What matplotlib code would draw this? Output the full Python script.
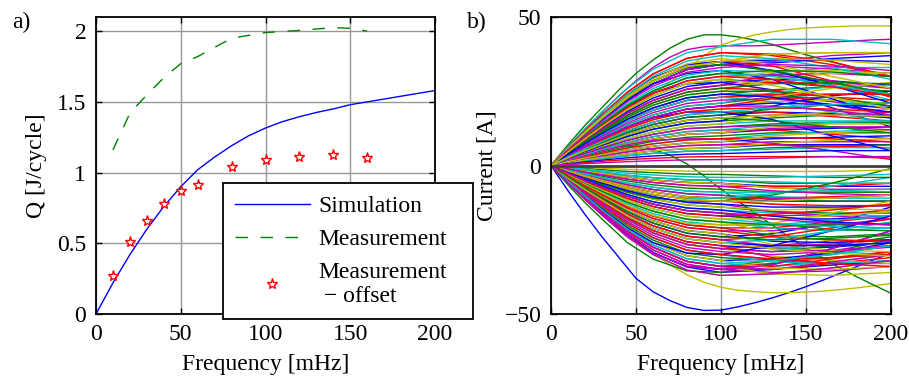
import numpy as np
import matplotlib
matplotlib.use("Agg")
import matplotlib.pyplot as plt

# ---- panel a) data ----
f_sim = [0, 10, 20, 30, 40, 50, 60, 70, 80, 90, 100, 110, 120, 130, 140,
         150, 160, 170, 180, 190, 200]
q_sim = [0, 0.22, 0.42, 0.60, 0.76, 0.90, 1.02, 1.11, 1.19, 1.26, 1.315,
         1.36, 1.395, 1.425, 1.45, 1.48, 1.50, 1.52, 1.54, 1.56, 1.58]

f_meas = [10, 20, 30, 40, 50, 60, 80, 100, 120, 140, 150, 160]
q_meas = [1.16, 1.42, 1.55, 1.67, 1.77, 1.82, 1.95, 1.99, 2.005, 2.025, 2.02, 2.0]

f_off = [10, 20, 30, 40, 50, 60, 80, 100, 120, 140, 160]
q_off = [0.27, 0.51, 0.66, 0.78, 0.87, 0.91, 1.04, 1.09, 1.11, 1.125, 1.105]

# ---- panel b) data: branch currents vs frequency ----
# outermost branches, read on a fine frequency grid
f_edge = [0, 10, 20, 30, 40, 50, 60, 70, 80, 90, 100, 110, 120, 130, 140,
          150, 160, 170, 180, 190, 200]
edge_colors = ['g', 'b', 'm', 'y', 'y', 'g']
edge_curves = [
    [0, 7, 13.5, 19.5, 25.5, 31, 35.5, 39.5, 42.5, 44, 44, 43.3, 42.2, 40.8,
     39, 37.3, 35.7, 34.1, 32.6, 31.2, 29.8],
    [0, -8.5, -16.5, -24, -31, -38, -42.5, -45.5, -47.8, -48.8, -48.7,
     -47.6, -46.2, -44.6, -42.8, -40.8, -38.6, -36.3, -34, -31.7, -29.5],
    [0, 6, 12, 18, 23.5, 28.5, 33, 36.5, 39, 40, 40.3, 40.3, 40.3, 40.5,
     40.8, 41.1, 41.4, 41.7, 42, 42.3, 42.5],
    [0, 4, 8, 12, 16, 20, 24, 28, 32.5, 37, 40.5, 42.5, 44, 45, 45.8, 46.3,
     46.6, 46.8, 47, 47, 47],
    [0, -5, -10, -15, -20, -25, -29.5, -33.5, -36.8, -39.3, -41, -42, -42.5,
     -42.8, -42.8, -42.6, -42.3, -41.8, -41.2, -40.5, -39.7],
    [0, 2.5, 4.5, 6, 6.5, 6.5, 5.5, 3.5, 0.5, -3.5, -8, -12, -16, -20, -24,
     -27.8, -31.2, -34.5, -37.5, -40.3, -43],
]

# all other branches
f_cur = [0, 10, 20, 30, 45, 60, 80, 100, 130, 165, 200]
current_curves = [
    # colour order per group: b, g, r, c, m, y
    [0, 5.6, 10.9, 15.8, 22.8, 28.4, 33.3, 35, 35.5, 35.5, 35],
    [0, 5.6, 10.9, 16, 22.5, 28.5, 33, 34, 32, 28, 24],
    [0, 6.1, 11.8, 17.1, 24.7, 30.8, 36.1, 38, 37, 34, 30],
    [0, 6.4, 12.4, 18.0, 26.0, 32.4, 38.0, 40, 42.5, 42.5, 41],
    [0, 5.4, 10.5, 15.3, 22.1, 27.5, 32.3, 34, 35, 37, 38],
    [0, 5.6, 10.9, 15.8, 22.8, 28.4, 33.3, 35, 37.5, 38, 38],

    [0, -5.8, -11.3, -16.5, -23.5, -29.5, -34, -35, -33.5, -28, -22],
    [0, -5.4, -10.5, -15.3, -22.1, -27.5, -32.3, -34, -32, -30, -27],
    [0, -5.4, -10.5, -15.3, -22.1, -27.5, -32.3, -34, -33, -31, -29],
    [0, 3.8, 7.4, 10.8, 15.6, 19.4, 22.8, 24, 24, 22, 20],
    [0, -4.8, -9.3, -13.5, -19.5, -24.3, -28.5, -30, -31.5, -33, -33],
    [0, -5.9, -11.5, -16.7, -24.1, -30.0, -35.2, -37, -36.5, -34.5, -32],

    [0, 5.4, 10.5, 15.3, 22.1, 27.5, 32.3, 34, 34.5, 36, 37],
    [0, 4.6, 9.0, 13.1, 18.9, 23.5, 27.6, 29, 28, 26.5, 25],
    [0, 6.1, 11.8, 17.1, 24.7, 30.8, 36.1, 38, 37.5, 35, 30],
    [0, 4.3, 8.4, 12.2, 17.6, 21.9, 25.7, 27, 31, 33, 33],
    [0, 5.4, 10.5, 15.3, 22.1, 27.5, 32.3, 34, 33.5, 32.5, 31],
    [0, 5.6, 10.9, 15.8, 22.8, 28.4, 33.3, 35, 36, 35.5, 34],

    [0, -5.8, -11.2, -16.2, -23.4, -29.2, -34.2, -36, -35, -33.5, -32],
    [0, -6.5, -12.5, -18, -26, -31.5, -35.5, -36, -33, -29, -25],
    [0, -5.6, -10.9, -15.8, -22.8, -28.4, -33.3, -35, -35, -33, -31],
    [0, -5.3, -10.2, -14.9, -21.5, -26.7, -31.4, -33, -34, -32.5, -30],
    [0, -5.6, -10.9, -15.8, -22.8, -28.4, -33.3, -35, -36, -35.5, -34],
    [0, -5.4, -10.5, -15.3, -22.1, -27.5, -32.3, -34, -36.5, -37, -36],

    [0, 4.5, 8.7, 12.6, 18.2, 22.7, 26.6, 28, 29, 28.5, 27],
    [0, 3.8, 7.4, 10.8, 15.6, 19.4, 22.8, 24, 25.5, 26.5, 27],
    [0, 4.3, 8.4, 12.2, 17.6, 21.9, 25.7, 27, 28, 27.5, 26],
    [0, 5.0, 9.6, 14.0, 20.2, 25.1, 29.5, 31, 30.5, 27, 22],
    [0, 4.3, 8.4, 12.2, 17.6, 21.9, 25.7, 27, 30.5, 31, 30],
    [0, 4.0, 7.8, 11.3, 16.3, 20.3, 23.8, 25, 29, 31, 31],

    [0, -4.3, -8.4, -12.2, -17.6, -21.9, -25.7, -27, -28, -27.5, -26],
    [0, -4.5, -8.7, -12.6, -18.2, -22.7, -26.6, -28, -29, -27, -24],
    [0, -4.5, -8.7, -12.6, -18.2, -22.7, -26.6, -28, -27, -25.5, -25],
    [0, -4.0, -7.8, -11.3, -16.3, -20.3, -23.8, -25, -27.5, -29, -30],
    [0, -4.0, -7.8, -11.3, -16.3, -20.3, -23.8, -25, -27, -26.5, -25],
    [0, -4.5, -8.7, -12.6, -18.2, -22.7, -26.6, -28, -30.5, -32, -33],

    [0, 5, 9.5, 14, 20, 24.5, 27.5, 28, 25.5, 19.5, 13],
    [0, 3.4, 6.5, 9.5, 13.7, 17.0, 20.0, 21, 23, 24, 24],
    [0, 4.2, 8.1, 11.7, 16.9, 21.1, 24.7, 26, 25.5, 23, 20],
    [0, 3.4, 6.5, 9.5, 13.7, 17.0, 20.0, 21, 24.5, 26.5, 27],
    [0, 3.7, 7.1, 10.4, 15.0, 18.6, 21.9, 23, 23.5, 21.5, 19],
    [0, 3.2, 6.2, 9.0, 13.0, 16.2, 19.0, 20, 21.5, 22, 21],

    [0, -3.8, -7.4, -10.8, -15.6, -19.4, -22.8, -24, -23, -19.5, -14],
    [0, -3.4, -6.5, -9.5, -13.7, -17.0, -20.0, -21, -23.5, -24, -23],
    [0, -3.4, -6.5, -9.5, -13.7, -17.0, -20.0, -21, -21, -19, -17],
    [0, -3.0, -5.9, -8.6, -12.4, -15.4, -18.1, -19, -21, -22, -21],
    [0, -3.5, -6.8, -9.9, -14.3, -17.8, -20.9, -22, -22, -20, -18],
    [0, -3.0, -5.9, -8.6, -12.4, -15.4, -18.1, -19, -22.5, -25.5, -27],

    [0, 2.7, 5.3, 7.7, 11.1, 13.8, 16.2, 17, 18, 17.5, 16],
    [0, 2.4, 4.7, 6.8, 9.8, 12.2, 14.3, 15, 16, 17, 17],
    [0, 2.9, 5.6, 8.1, 11.7, 14.6, 17.1, 18, 18, 16.5, 15],
    [0, 2.2, 4.3, 6.3, 9.1, 11.3, 13.3, 14, 15, 15, 15],
    [0, 2.6, 5.0, 7.2, 10.4, 13.0, 15.2, 16, 17, 17, 18],
    [0, 2.2, 4.3, 6.3, 9.1, 11.3, 13.3, 14, 16.5, 18, 19],

    [0, -2.7, -5.3, -7.7, -11.1, -13.8, -16.2, -17, -18, -18, -17],
    [0, -2.2, -4.3, -6.3, -9.1, -11.3, -13.3, -14, -15.5, -16, -16],
    [0, -2.6, -5.0, -7.2, -10.4, -13.0, -15.2, -16, -17, -16.5, -15],
    [0, -2.4, -4.7, -6.8, -9.8, -12.2, -14.3, -15, -16, -16.5, -17],
    [0, -2.1, -4.0, -5.9, -8.5, -10.5, -12.4, -13, -15.5, -17, -18],
    [0, -2.2, -4.3, -6.3, -9.1, -11.3, -13.3, -14, -15, -14.5, -13],

    [0, 1.8, 3.4, 5.0, 7.2, 8.9, 10.5, 11, 12, 12.5, 13],
    [0, 1.6, 3.1, 4.5, 6.5, 8.1, 9.5, 10, 11, 11, 11],
    [0, 1.9, 3.7, 5.4, 7.8, 9.7, 11.4, 12, 12, 10.5, 9],
    [0, 1.4, 2.8, 4.1, 5.9, 7.3, 8.6, 9, 10.5, 11.5, 12],
    [0, 1.8, 3.4, 5.0, 7.2, 8.9, 10.5, 11, 12.5, 13, 13],
    [0, 1.8, 3.4, 5.0, 7.2, 8.9, 10.5, 11, 13, 14, 14],

    [0, -1.8, -3.4, -5.0, -7.2, -8.9, -10.5, -11, -12, -12, -12],
    [0, -1.6, -3.1, -4.5, -6.5, -8.1, -9.5, -10, -11.5, -12, -12],
    [0, -1.8, -3.4, -5.0, -7.2, -8.9, -10.5, -11, -11, -10.5, -10],
    [0, -1.4, -2.8, -4.1, -5.9, -7.3, -8.6, -9, -10.5, -11, -11],
    [0, -1.6, -3.1, -4.5, -6.5, -8.1, -9.5, -10, -11, -11, -10],
    [0, -1.8, -3.4, -5.0, -7.2, -8.9, -10.5, -11, -13, -14.5, -15],

    [0, 1.0, 1.9, 2.7, 3.9, 4.9, 5.7, 6, 7, 7, 7],
    [0, 0.8, 1.6, 2.3, 3.3, 4.1, 4.8, 5, 6, 6.5, 7],
    [0, 1.1, 2.2, 3.2, 4.6, 5.7, 6.7, 7, 7, 6.5, 6],
    [0, 0.8, 1.6, 2.3, 3.3, 4.1, 4.8, 5, 5.5, 6, 6],
    [0, 1.1, 2.2, 3.2, 4.6, 5.7, 6.7, 7, 8, 8, 8],
    [0, 1.0, 1.9, 2.7, 3.9, 4.9, 5.7, 6, 7.5, 8.5, 9],

    [0, -1.0, -1.9, -2.7, -3.9, -4.9, -5.7, -6, -7, -7, -7],
    [0, -0.8, -1.6, -2.3, -3.3, -4.1, -4.8, -5, -6, -6, -6],
    [0, -1.1, -2.2, -3.2, -4.6, -5.7, -6.7, -7, -7, -7, -6],
    [0, -0.8, -1.6, -2.3, -3.3, -4.1, -4.8, -5, -5.5, -6, -6],
    [0, -1.0, -1.9, -2.7, -3.9, -4.9, -5.7, -6, -7.5, -8, -8],
    [0, -1.0, -1.9, -2.7, -3.9, -4.9, -5.7, -6, -7.5, -8.5, -9],

    [0, 5.5, 10.5, 15.5, 22, 27.5, 31, 32, 29, 22.5, 16],
    [0, 4.0, 7.8, 11.3, 16.3, 20.3, 23.8, 25, 25, 23, 20],
    [0, 5.8, 11.3, 16.5, 23.5, 29.5, 34, 35, 33.5, 28.5, 23],
    [0, 5.1, 9.9, 14.4, 20.8, 25.9, 30.4, 32, 31.5, 28, 24],
    [0, 4.8, 9.3, 13.5, 19.5, 24.3, 28.5, 30, 30.5, 28.5, 26],
    [0, 4.6, 9.0, 13.1, 18.9, 23.5, 27.6, 29, 31.5, 32, 31],

    [0, -5.1, -9.9, -14.4, -20.8, -25.9, -30.4, -32, -31.5, -29.5, -26],
    [0, -5.0, -9.6, -14.0, -20.2, -25.1, -29.5, -31, -32, -31, -30],
    [0, -5.4, -10.5, -15.3, -22.1, -27.5, -32.3, -34, -34, -31.5, -29],
    [0, -4.8, -9.3, -13.5, -19.5, -24.3, -28.5, -30, -32.5, -33, -32],
    [0, -5.4, -10.5, -15.3, -22.1, -27.5, -32.3, -34, -35, -32.5, -30],
    [0, -5.1, -9.9, -14.4, -20.8, -25.9, -30.4, -32, -34.5, -35, -34],

    [0, 2.4, 4.7, 6.8, 9.8, 12.2, 14.3, 15, 20, 23.5, 25],
    [0, 2.7, 5.3, 7.7, 11.1, 13.8, 16.2, 17, 19, 20.5, 21],
    [0, 3.7, 7.1, 10.4, 15.0, 18.6, 21.9, 23, 24, 24, 24],
    [0, 3.7, 7.1, 10.4, 15.0, 18.6, 21.9, 23, 21.5, 18, 14],
    [0, 3.5, 6.8, 9.9, 14.3, 17.8, 20.9, 22, 22.5, 20.5, 17],
    [0, 3.0, 5.9, 8.6, 12.4, 15.4, 18.1, 19, 23, 26, 28],

    [0, -3.7, -7.1, -10.4, -15.0, -18.6, -21.9, -23, -25.5, -26, -25],
    [0, -2.6, -5.0, -7.2, -10.4, -13.0, -15.2, -16, -19.5, -21.5, -22],
    [0, -4.0, -7.8, -11.3, -16.3, -20.3, -23.8, -25, -24, -21, -18],
    [0, -3.2, -6.2, -9.0, -13.0, -16.2, -19.0, -20, -20, -18.5, -17],
    [0, -4.5, -8.7, -12.6, -18.2, -22.7, -26.6, -28, -29, -28.5, -27],
    [0, -3.7, -7.1, -10.4, -15.0, -18.6, -21.9, -23, -26.5, -28.5, -29],

    [0, 3.2, 6.2, 9, 13, 16, 18, 18, 15.5, 10, 5],
    [0, -2.2, -4.3, -6.3, -9, -11, -12, -12, -10, -6, -1],
    [0, 3.2, 6.2, 9.0, 13.0, 16.2, 19.0, 20, 22.5, 23, 22],
    [0, -2, -3.8, -5.5, -8, -10, -11, -11, -9.5, -7, -4],
    [0, 1.8, 3.4, 5, 7, 8.5, 9, 9, 7.5, 5, 2],
    [0, -3.3, -6.4, -9.3, -13.5, -16.8, -19.5, -20, -19.5, -16, -12],

    [0, 5.8, 11.3, 16.5, 23.5, 29.5, 34, 35, 32, 27, 21],
    [0, 5.6, 10.9, 16, 22.5, 28.5, 33, 34, 32, 28, 24],
    [0, -4.3, -8.4, -12.2, -17.6, -21.9, -25.7, -27, -31, -33, -34],
    [0, 5.0, 9.6, 14.0, 20.2, 25.1, 29.5, 31, 30, 27, 24],
    [0, -5.8, -11.3, -16.5, -23.5, -29.5, -34, -35, -33.5, -28, -22],
    [0, 5.6, 10.9, 15.8, 22.8, 28.4, 33.3, 35, 37.5, 38, 38],

    [0, 0.6, 1.2, 1.8, 2.6, 3.2, 3.8, 4, 4.5, 5, 5],
    [0, -0.5, -0.9, -1.4, -2.0, -2.4, -2.9, -3, -3.5, -4, -4],
    [0, 0.5, 0.9, 1.4, 2.0, 2.4, 2.9, 3, 3, 3, 2.5],
    [0, -0.6, -1.2, -1.8, -2.6, -3.2, -3.8, -4, -4, -3.5, -3],
    [0, 0.3, 0.6, 0.9, 1.3, 1.6, 1.9, 2, 2.5, 3, 3],
    [0, -0.3, -0.6, -0.9, -1.3, -1.6, -1.9, -2, -2, -2, -1.5],

    [0, 1.3, 2.5, 3.6, 5.2, 6.5, 7.6, 8, 9, 9.5, 10],
    [0, -1.3, -2.5, -3.6, -5.2, -6.5, -7.6, -8, -9, -9, -9],
    [0, 1.4, 2.8, 4.1, 5.9, 7.3, 8.6, 9, 9.5, 9, 8],
    [0, -1.4, -2.8, -4.1, -5.9, -7.3, -8.6, -9, -9, -8.5, -8],
    [0, -1.1, -2.2, -3.2, -4.6, -5.7, -6.7, -7, -8.5, -9.5, -10],
    [0, 1.3, 2.5, 3.6, 5.2, 6.5, 7.6, 8, 10, 11, 12],

    [0, -2.1, -4.0, -5.9, -8.5, -10.5, -12.4, -13, -14, -14, -13.5],
    [0, 2.1, 4.0, 5.9, 8.5, 10.5, 12.4, 13, 14, 14.5, 14.5],
    [0, -1.9, -3.7, -5.4, -7.8, -9.7, -11.4, -12, -13, -13.5, -13.5],
    [0, 1.9, 3.7, 5.4, 7.8, 9.7, 11.4, 12, 13.5, 14.5, 15],
    [0, 2.1, 4.0, 5.9, 8.5, 10.5, 12.4, 13, 13.5, 13, 12],
    [0, -1.9, -3.7, -5.4, -7.8, -9.7, -11.4, -12, -12, -11, -10],

    [0, 3.2, 6.2, 9.0, 13.0, 16.2, 19.0, 20, 21, 20.5, 19.5],
    [0, -3.0, -5.9, -8.6, -12.4, -15.4, -18.1, -19, -20, -20, -19.5],
    [0, 3.0, 5.9, 8.6, 12.4, 15.4, 18.1, 19, 19.5, 19, 18],
    [0, -2.9, -5.6, -8.1, -11.7, -14.6, -17.1, -18, -19.5, -20.5, -21],
    [0, 3.2, 6.2, 9.0, 13.0, 16.2, 19.0, 20, 20, 18.5, 16.5],
    [0, -2.9, -5.6, -8.1, -11.7, -14.6, -17.1, -18, -18, -17, -15.5],

    [0, -5.2, -10, -14.5, -21, -26, -29.5, -30, -27, -22, -17],
    [0, 4.2, 8.1, 11.7, 16.9, 21.1, 24.7, 26, 27.5, 28, 27.5],
    [0, -4.8, -9.3, -13.5, -19.5, -24.3, -28.5, -30, -31.5, -31, -30],
    [0, 5.9, 11.5, 16.7, 24.1, 30.0, 35.2, 37, 36, 33, 29],
    [0, -4.6, -9.0, -13.1, -18.9, -23.5, -27.6, -29, -30, -29, -27.5],
    [0, 5.8, 11.2, 16.2, 23.4, 29.2, 34.2, 36, 34, 30, 26],

    [0, -4.2, -8.1, -11.7, -16.9, -21.1, -24.7, -26, -27, -27, -26],
    [0, 5.0, 9.6, 14.0, 20.2, 25.1, 29.5, 31, 32, 31.5, 30],
    [0, -3.5, -6.8, -9.9, -14.3, -17.8, -20.9, -22, -24, -25, -25.5],
    [0, -4.2, -8.1, -11.7, -16.9, -21.1, -24.7, -26, -25, -22, -19],
    [0, 5.3, 10.2, 14.9, 21.5, 26.7, 31.4, 33, 34, 33.5, 32],
    [0, -4.2, -8.1, -11.7, -16.9, -21.1, -24.7, -26, -28, -29.5, -30.5],

    [0, 3.8, 7.4, 10.8, 15.6, 19.4, 22.8, 24, 23, 20.5, 18],
    [0, -3.8, -7.4, -10.8, -15.6, -19.4, -22.8, -24, -25, -24.5, -23.5],
    [0, 4.8, 9.3, 13.5, 19.5, 24.3, 28.5, 30, 29, 26.5, 23.5],
    [0, -5.3, -10.2, -14.9, -21.5, -26.7, -31.4, -33, -32, -30, -27],
    [0, -5.9, -11.5, -16.7, -24.1, -30.0, -35.2, -37, -36.5, -34.5, -32],
    [0, 4.6, 9.0, 13.1, 18.9, 23.5, 27.6, 29, 27, 23, 19],

    [0, -2.4, -4.7, -6.8, -9.8, -12.2, -14.3, -15, -17, -19, -20],
    [0, 2.6, 5.0, 7.2, 10.4, 13.0, 15.2, 16, 15, 13, 11],
    [0, -2.7, -5.3, -7.7, -11.1, -13.8, -16.2, -17, -16.5, -15, -13],
    [0, 2.9, 5.6, 8.1, 11.7, 14.6, 17.1, 18, 19.5, 20.5, 21],
    [0, -2.6, -5.0, -7.2, -10.4, -13.0, -15.2, -16, -18, -19.5, -20],
    [0, 2.6, 5.0, 7.2, 10.4, 13.0, 15.2, 16, 17, 17, 16.5],
]
zero_curve = [0] * len(f_cur)

color_map = {'b': (0, 0, 1), 'g': (0, 0.5, 0), 'r': (1, 0, 0),
             'c': (0, 0.75, 0.75), 'm': (0.75, 0, 0.75), 'y': (0.75, 0.75, 0)}
color_order = ['b', 'g', 'r', 'c', 'm', 'y']

plt.rcParams['font.family'] = ['Liberation Serif', 'DejaVu Serif']
plt.rcParams['font.size'] = 17

fig = plt.figure(figsize=(9.09, 3.76), dpi=100)
W, H = 909.0, 376.0
ax1 = fig.add_axes([96 / W, 1 - 314 / H, (435 - 96) / W, (314 - 17) / H])
ax2 = fig.add_axes([551 / W, 1 - 314 / H, (891 - 551) / W, (314 - 17) / H])


def style(ax):
    ax.grid(True, color='#999999', linewidth=1.0)
    ax.set_axisbelow(True)
    ax.tick_params(direction='in', length=4, width=1.0, top=True, right=True,
                   pad=7)
    for s in ax.spines.values():
        s.set_linewidth(1.3)
        s.set_zorder(5)
    ax.set_xlim(0, 200)
    ax.set_xticks([0, 50, 100, 150, 200])
    ax.set_xlabel('Frequency [mHz]', labelpad=7)


# panel a
ax1.plot(f_sim, q_sim, color='blue', lw=1.0, label='Simulation')
ax1.plot(f_meas, q_meas, color=(0, 0.5, 0), lw=1.0, dashes=(9, 9),
         label='Measurement')
ax1.plot(f_off, q_off, ls='none', marker='*', ms=8, mfc='white',
         mec='red', mew=1.0, label='Measurement\n \u2212 offset')
style(ax1)
ax1.set_ylim(0, 2.1)
ax1.set_yticks([0, 0.5, 1, 1.5, 2])
ax1.set_yticklabels(['0', '0.5', '1', '1.5', '2'])
ax1.set_ylabel('Q [J/cycle]')
ax1.yaxis.set_label_coords(-0.145, 0.5)

leg = ax1.legend(loc='upper left',
                 bbox_to_anchor=(223 / W, 1 - 319 / H, 250 / W, 136 / H),
                 bbox_transform=fig.transFigure, mode='expand',
                 fancybox=False, framealpha=1, edgecolor='black',
                 handlelength=3.15, borderpad=0.52, labelspacing=0.5,
                 handletextpad=0.35, borderaxespad=0)
leg.get_frame().set_linewidth(1.3)
leg.set_zorder(10)

# panel b
for row, c in zip(edge_curves, edge_colors):
    ax2.plot(f_edge, row, color=color_map[c], lw=1.0)
for i, row in enumerate(current_curves):
    ax2.plot(f_cur, row, color=color_map[color_order[i % 6]], lw=1.0)
ax2.plot(f_cur, zero_curve, color=(0.25, 0.25, 0.25), lw=2.0)
style(ax2)
ax2.set_ylim(-50, 50)
ax2.set_yticks([-50, 0, 50])
ax2.set_yticklabels(['\u221250', '0', '50'])
ax2.set_ylabel('Current [A]')
ax2.yaxis.set_label_coords(-0.158, 0.5)

fig.text(12 / W, 1 - 28 / H, 'a)')
fig.text(467 / W, 1 - 28 / H, 'b)')

fig.savefig('out.png', dpi=100)
